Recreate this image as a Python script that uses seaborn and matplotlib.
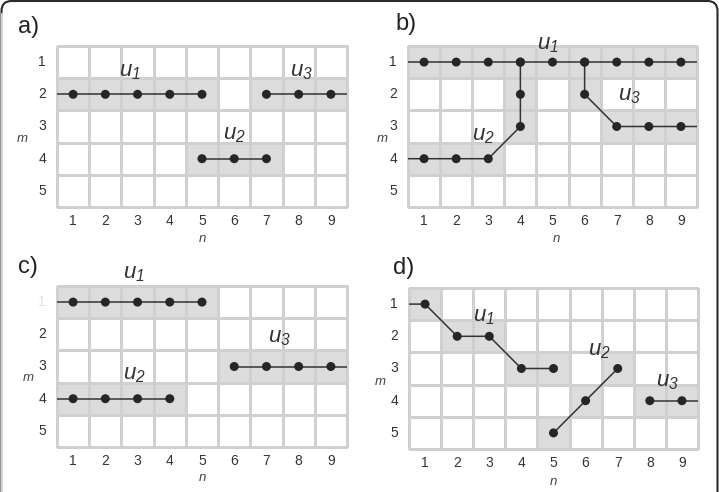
import numpy as np
import pandas as pd
import matplotlib
matplotlib.use("Agg")
import matplotlib.pyplot as plt
import seaborn as sns
from matplotlib.colors import ListedColormap
from matplotlib.patches import FancyBboxPatch
from matplotlib.lines import Line2D
from matplotlib.transforms import IdentityTransform

# ---------------- data ----------------
n_ticks = [1, 2, 3, 4, 5, 6, 7, 8, 9]
m_ticks = [1, 2, 3, 4, 5]
u_names = ["u1", "u2", "u3"]

# paths (n, m); 0.5 / 9.5 = path runs on to the grid edge (no dot there)
a_u1_n = [0.5, 1, 2, 3, 4, 5]
a_u1_m = [2, 2, 2, 2, 2, 2]
a_u2_n = [5, 6, 7]
a_u2_m = [4, 4, 4]
a_u3_n = [7, 8, 9, 9.5]
a_u3_m = [2, 2, 2, 2]
a_cells = [(1, 2), (2, 2), (3, 2), (4, 2), (5, 2), (7, 2), (8, 2), (9, 2),
           (5, 4), (6, 4), (7, 4)]

b_u1_n = [0.5, 1, 2, 3, 4, 5, 6, 7, 8, 9, 9.5]
b_u1_m = [1, 1, 1, 1, 1, 1, 1, 1, 1, 1, 1]
b_u2_n = [0.5, 1, 2, 3, 4, 4, 4]
b_u2_m = [4, 4, 4, 4, 3, 2, 1]
b_u3_n = [6, 6, 7, 8, 9, 9.5]
b_u3_m = [1, 2, 3, 3, 3, 3]
b_cells = [(1, 1), (2, 1), (3, 1), (4, 1), (5, 1), (6, 1), (7, 1), (8, 1), (9, 1),
           (1, 4), (2, 4), (3, 4), (4, 2), (4, 3), (6, 2), (7, 3), (8, 3), (9, 3)]

c_u1_n = [0.5, 1, 2, 3, 4, 5]
c_u1_m = [1, 1, 1, 1, 1, 1]
c_u2_n = [0.5, 1, 2, 3, 4]
c_u2_m = [4, 4, 4, 4, 4]
c_u3_n = [6, 7, 8, 9, 9.5]
c_u3_m = [3, 3, 3, 3, 3]
c_cells = [(1, 1), (2, 1), (3, 1), (4, 1), (5, 1), (1, 4), (2, 4), (3, 4), (4, 4),
           (6, 3), (7, 3), (8, 3), (9, 3)]

d_u1_n = [0.5, 1, 2, 3, 4, 5]
d_u1_m = [1, 1, 2, 2, 3, 3]
d_u2_n = [5, 6, 7]
d_u2_m = [5, 4, 3]
d_u3_n = [8, 9, 9.5]
d_u3_m = [4, 4, 4]
d_cells = [(1, 1), (2, 2), (3, 2), (4, 3), (5, 3), (5, 5), (6, 4), (7, 3),
           (8, 4), (9, 4)]

panels = {
    "a": dict(paths=[(a_u1_n, a_u1_m), (a_u2_n, a_u2_m), (a_u3_n, a_u3_m)], cells=a_cells),
    "b": dict(paths=[(b_u1_n, b_u1_m), (b_u2_n, b_u2_m), (b_u3_n, b_u3_m)], cells=b_cells),
    "c": dict(paths=[(c_u1_n, c_u1_m), (c_u2_n, c_u2_m), (c_u3_n, c_u3_m)], cells=c_cells),
    "d": dict(paths=[(d_u1_n, d_u1_m), (d_u2_n, d_u2_m), (d_u3_n, d_u3_m)], cells=d_cells),
}

# ---------------- layout ----------------
W, H = 719, 492
axes_px = {  # left, top, right, bottom in pixels
    "a": (57, 46, 347, 207),
    "b": (408, 46, 697, 207),
    "c": (57, 286, 347, 447),
    "d": (409, 288, 698, 449),
}
u_label_pos = {  # (n, m) of the left edge / vertical centre of each u label
    "a": [(2.43, 1.28), (5.65, 3.26), (7.74, 1.28)],
    "b": [(4.52, 0.44), (2.49, 3.27), (7.04, 2.03)],
    "c": [(2.55, 0.10), (2.55, 3.26), (7.05, 2.11)],
    "d": [(2.49, 1.40), (6.08, 2.43), (8.20, 3.40)],
}
m_label_pos = {"a": (-0.12, 0.42), "b": (-0.09, 0.42), "c": (-0.10, 0.43), "d": (-0.10, 0.416)}
n_label_pos = {"a": (0.5, -0.20), "b": (0.515, -0.20), "c": (0.5, -0.19), "d": (0.5, -0.205)}
letter_pos = {"a": (18, 27), "b": (395, 24), "c": (18, 267), "d": (393, 268)}

sns.set_style("white")
plt.rcParams["font.family"] = ["Liberation Sans", "DejaVu Sans"]
plt.rcParams["mathtext.fontset"] = "custom"
plt.rcParams["mathtext.it"] = "Liberation Sans:italic"
plt.rcParams["mathtext.rm"] = "Liberation Sans:italic"

fig = plt.figure(figsize=(W / 100, H / 100), dpi=100)
fig.patch.set_facecolor("white")

cmap = ListedColormap(["white", "#dcdcdc"])

for key, spec in panels.items():
    l, t, r, b = axes_px[key]
    ax = fig.add_axes([l / W, 1 - b / H, (r - l) / W, (b - t) / H])
    grid = pd.DataFrame(0, index=m_ticks, columns=n_ticks)
    for n, m in spec["cells"]:
        grid.loc[m, n] = 1
    sns.heatmap(grid, cmap=cmap, vmin=0, vmax=1, cbar=False, linewidths=0.75,
                linecolor="#d0d0d0", ax=ax)
    ax.collections[0].set_clip_on(False)

    for pn, pm in spec["paths"]:
        x = np.array(pn, dtype=float) - 0.5
        y = np.array(pm, dtype=float) - 0.5
        sns.lineplot(x=x, y=y, sort=False, estimator=None, color="#333333",
                     linewidth=1.1, ax=ax, zorder=4)
        mask = np.mod(pn, 1) == 0
        sns.scatterplot(x=x[mask], y=y[mask], s=42, color="#262626",
                        edgecolor="none", linewidth=0, zorder=5, ax=ax)

    ax.set_xlim(0, len(n_ticks))
    ax.set_ylim(len(m_ticks), 0)
    ax.tick_params(length=0, labelsize=10, colors="#333333")
    ax.tick_params(axis="y", pad=8)
    ax.tick_params(axis="x", pad=5)
    plt.setp(ax.get_yticklabels(), rotation=0)
    plt.setp(ax.get_xticklabels(), rotation=0)
    if key == "c":
        ax.get_yticklabels()[0].set_color("#e2e2e2")

    ax.set_xlabel("n", style="italic", fontsize=9.5, color="#444444", va="center")
    ax.xaxis.set_label_coords(*n_label_pos[key])
    ax.set_ylabel("m", style="italic", fontsize=9.5, color="#444444", rotation=0,
                  va="center", ha="center")
    ax.yaxis.set_label_coords(*m_label_pos[key])

    for name, (un, um) in zip(u_names, u_label_pos[key]):
        ax.text(un - 0.5, um - 0.5, r"$u_{%s}$" % name[1:], fontsize=16,
                ha="left", va="center", color="#333333", zorder=6, clip_on=False)

    lx, ly = letter_pos[key]
    fig.text(lx / W, 1 - ly / H, key + ")", fontsize=17, ha="left", va="center",
             color="#222222")

# outer rounded frame (partially visible)
frame = FancyBboxPatch((1.5, -30), 716, 521, boxstyle="round,pad=0,rounding_size=10",
                       transform=IdentityTransform(), fill=False, ec="#2a2a2a", lw=1.5)
fig.add_artist(frame)
fig.add_artist(Line2D([1.5, 1.5], [0, 478], transform=IdentityTransform(),
                      color="#d4d4d4", lw=1.6))

fig.savefig("out.png", dpi=100)
